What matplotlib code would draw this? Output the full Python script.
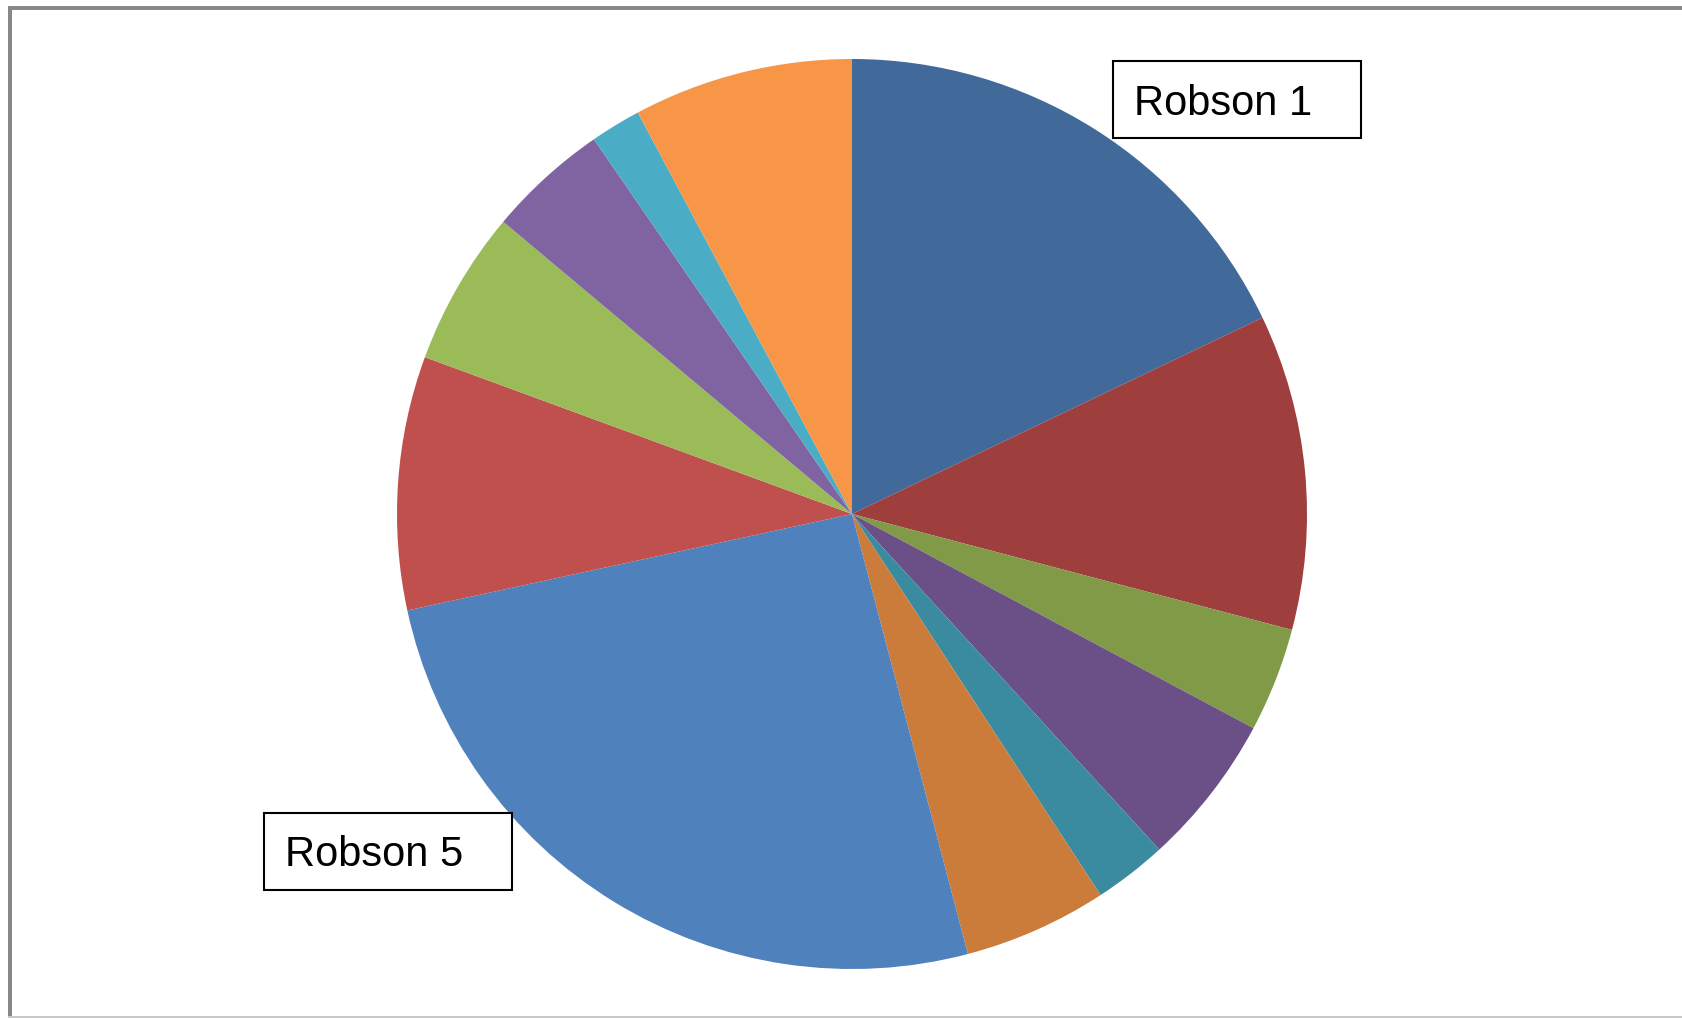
import matplotlib.pyplot as plt
from matplotlib.patches import Rectangle

# Data (shares, clockwise from 12 o'clock)
labels = ['Robson 1', '', '', '', '', '', 'Robson 5', '', '', '', '', '']
shares = [17.9, 11.2, 3.7, 5.4, 2.6, 5.1, 25.7, 9.0, 5.5, 4.3, 1.8, 7.8]
colors = ['#41699A', '#9E3E3D', '#809A48', '#6B5087', '#3B8BA0', '#CC7C3A',
          '#4F81BD', '#C0504D', '#9BBB59', '#8064A2', '#4BACC6', '#F79646']

W, H = 1682, 1018
fig = plt.figure(figsize=(W / 100, H / 100), dpi=100)
ax = fig.add_axes([0, 0, 1, 1])
ax.set_xlim(0, W)
ax.set_ylim(0, H)
ax.set_aspect('equal')
ax.axis('off')

ax.pie(shares, colors=colors, startangle=90, counterclock=False,
       center=(852, H - 514), radius=455,
       wedgeprops=dict(linewidth=0))
ax.set_xlim(0, W)
ax.set_ylim(0, H)

# chart frame (top and left thick gray, bottom thin light gray)
ax.add_patch(Rectangle((8, H - 10), W - 8, 4, color='#888888', lw=0))
ax.add_patch(Rectangle((8, 0), 4, H - 6, color='#888888', lw=0))
ax.add_patch(Rectangle((8, 0), W - 8, 2, color='#C8C8C8', lw=0))

# label boxes
boxes = {'Robson 1': (1113, H - 138, 248, 77),
         'Robson 5': (264, H - 890, 248, 77)}
for name, (x, y, w, h) in boxes.items():
    ax.add_patch(Rectangle((x, y), w, h, facecolor='white',
                           edgecolor='black', lw=1.5))
    ax.text(x + 21, y + h / 2 - 4, name, fontsize=30, family='Liberation Sans',
            ha='left', va='center', color='black')

fig.savefig('out.png', dpi=100)
